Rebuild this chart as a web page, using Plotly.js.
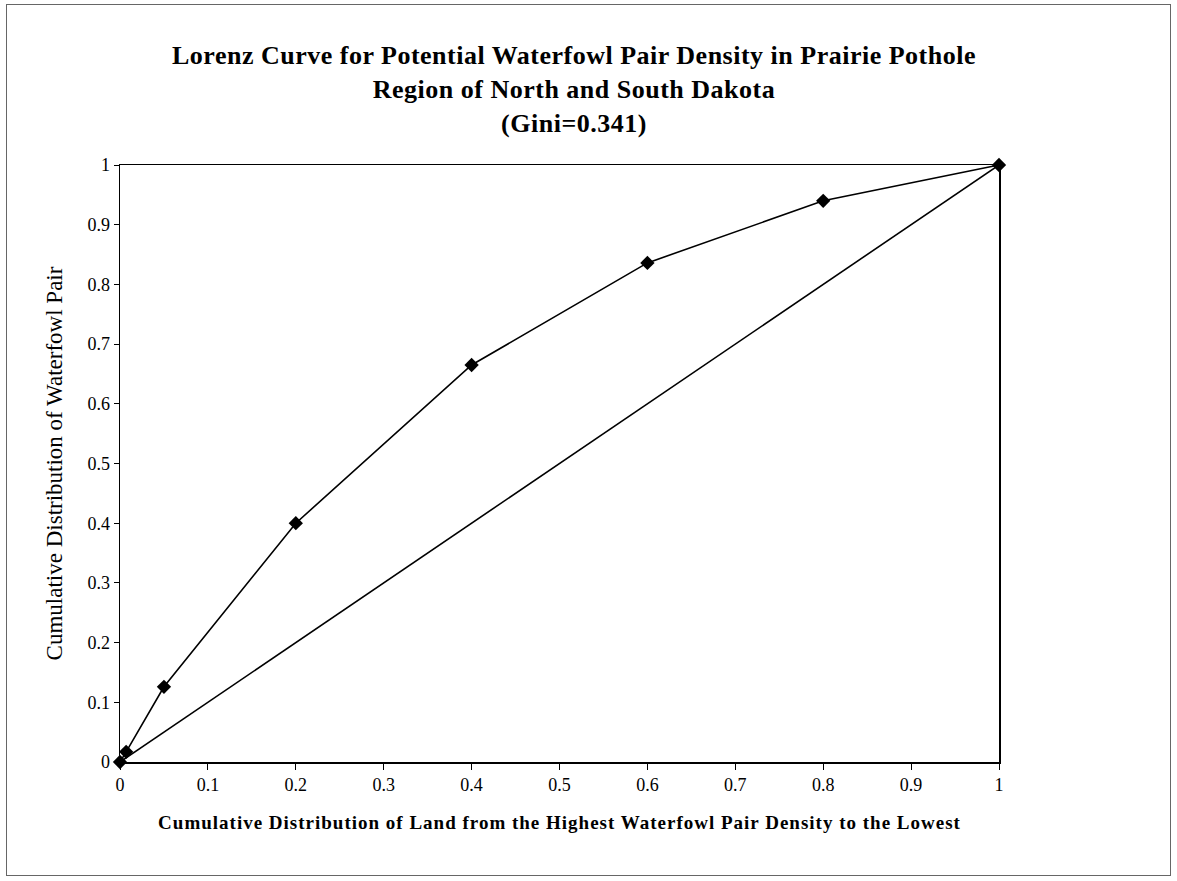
<!DOCTYPE html>
<html>
<head>
<meta charset="utf-8">
<script src="https://cdn.plot.ly/plotly-3.0.1.min.js"></script>
<style>
html,body{margin:0;padding:0;background:#fff;}
#frame{position:absolute;left:6px;top:4px;width:1165px;height:872px;border:1px solid #666;box-sizing:border-box;}
#chart{position:absolute;left:0;top:0;width:1177px;height:881px;}
.xtitle{letter-spacing:1px;}
.gtitle{letter-spacing:0.5px;}
</style>
</head>
<body>
<div id="frame"></div>
<div id="chart"></div>
<script>
// Lorenz curve data
const landShare = [0, 0.007, 0.05, 0.2, 0.4, 0.6, 0.8, 1];
const pairShare = [0, 0.017, 0.126, 0.40, 0.665, 0.836, 0.94, 1];
const equalityX = [0, 1];
const equalityY = [0, 1];
const tickVals = [0, 0.1, 0.2, 0.3, 0.4, 0.5, 0.6, 0.7, 0.8, 0.9, 1];
const tickText = ['0', '0.1', '0.2', '0.3', '0.4', '0.5', '0.6', '0.7', '0.8', '0.9', '1'];

const serif = 'Liberation Serif, Times New Roman, serif';

const traces = [
  {
    x: equalityX, y: equalityY, mode: 'lines', type: 'scatter',
    line: {color: '#000', width: 1.6}, cliponaxis: false, showlegend: false, hoverinfo: 'skip'
  },
  {
    x: landShare, y: pairShare, mode: 'lines+markers', type: 'scatter',
    line: {color: '#000', width: 1.6},
    marker: {symbol: 'diamond', size: 11, color: '#000'},
    cliponaxis: false, showlegend: false
  }
];

const layout = {
  width: 1177, height: 881,
  paper_bgcolor: 'rgba(0,0,0,0)', plot_bgcolor: '#fff',
  margin: {l: 120, r: 178, t: 165, b: 119},
  font: {family: serif, color: '#000'},
  title: {
    text: '<b>Lorenz Curve for Potential Waterfowl Pair Density in Prairie Pothole</b><br><b>Region of North and South Dakota</b><br><b>(Gini=0.341)</b>',
    font: {family: serif, size: 26, color: '#000'},
    x: 574 / 1177, xanchor: 'center', xref: 'container',
    y: 1 - 64 / 881, yanchor: 'top', yref: 'container'
  },
  xaxis: {
    range: [0, 1], tickvals: tickVals, ticktext: tickText,
    showgrid: false, zeroline: false,
    showline: true, linecolor: '#000', linewidth: 1.5, mirror: true,
    ticks: 'outside', ticklen: 6, tickcolor: '#000',
    tickfont: {family: serif, size: 18, color: '#000'},
    title: {text: '<b>Cumulative Distribution of Land from the Highest Waterfowl Pair Density to the Lowest</b>',
            font: {family: serif, size: 19, color: '#000'}, standoff: 21}
  },
  yaxis: {
    range: [0, 1], tickvals: tickVals, ticktext: tickText,
    showgrid: false, zeroline: false,
    showline: true, linecolor: '#000', linewidth: 1.5, mirror: true,
    ticks: 'outside', ticklen: 5, tickcolor: '#000',
    tickfont: {family: serif, size: 18, color: '#000'},
    title: {text: 'Cumulative Distribution of Waterfowl Pair',
            font: {family: serif, size: 23, color: '#000'}, standoff: 18}
  }
};

Plotly.newPlot('chart', traces, layout, {displayModeBar: false, staticPlot: true});
</script>
</body>
</html>
